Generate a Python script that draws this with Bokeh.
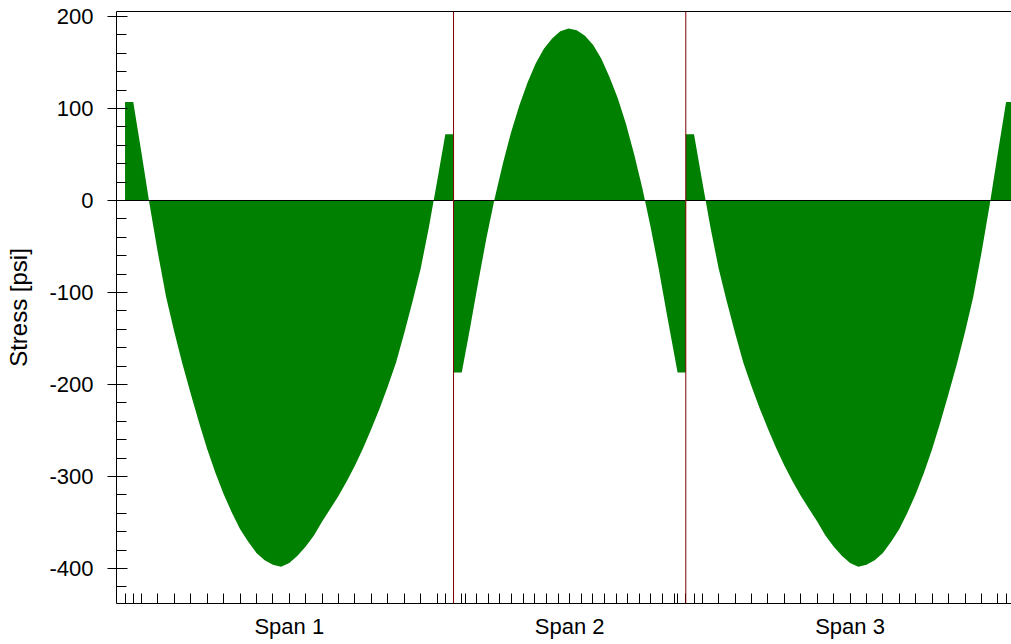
from bokeh.plotting import figure
from bokeh.models import (Range1d, LinearAxis, FixedTicker, SingleIntervalTicker,
                          CustomJSTickFormatter, Span)
from bokeh.embed import file_html
from bokeh.resources import INLINE

# ---- data ----
span_labels = ["Span 1", "Span 2", "Span 3"]
span_lengths = [100.0, 70.7, 100.0]          # ft
crit_offset = 2.5                             # ft, extra tick near each support

span1_x = [0, 2.5, 5, 7.5, 10, 12.5, 15, 17.5, 20, 22.5, 25, 27.5, 30, 32.5, 35, 37.5, 40,
           42.5, 45, 47.5, 50, 52.5, 55, 57.5, 60, 62.5, 65, 67.5, 70, 72.5, 75, 77.5, 80,
           82.5, 85, 87.5, 90, 92.5, 95, 97.5, 100]
span1_stress = [107, 107, 52, -5, -57, -105, -143, -178, -210, -241, -270, -296, -319, -339,
                -357, -371, -383, -391, -396, -398, -394, -386, -376, -364, -349, -335, -321,
                -305, -288, -269, -248, -226, -202, -176, -144, -110, -74, -29, 21, 72, 72]

span2_x = [0, 2.5, 5, 7.5, 10, 12.5, 15, 17.5, 20, 22.5, 25, 27.5, 30, 32.5, 35, 37.5, 40,
           42.5, 45, 47.5, 50, 52.5, 55, 57.5, 60, 62.5, 65, 68.2, 70.7]
span2_stress = [-187, -187, -139, -89, -41, 2, 40, 74, 103, 128, 149, 165, 176, 184, 187, 185,
                179, 169, 154, 134, 111, 83, 50, 13, -29, -75, -125, -187, -187]

span3_x = [0, 2.5, 5, 7.5, 10, 12.5, 15, 17.5, 20, 22.5, 25, 27.5, 30, 32.5, 35, 37.5, 40,
           42.5, 45, 47.5, 50, 52.5, 55, 57.5, 60, 62.5, 65, 67.5, 70, 72.5, 75, 77.5, 80,
           82.5, 85, 87.5, 90, 92.5, 95, 97.5, 100]
span3_stress = [72, 72, 21, -29, -74, -110, -144, -176, -202, -226, -248, -269, -288, -305,
                -321, -335, -349, -364, -376, -386, -394, -398, -396, -391, -383, -371, -357,
                -339, -319, -296, -270, -241, -210, -178, -143, -105, -57, -5, 52, 107, 107]

y_tick_interval = 100

# ---- derived ----
starts = [0.0]
for L in span_lengths[:-1]:
    starts.append(starts[-1] + L)
centers = [s + L / 2 for s, L in zip(starts, span_lengths)]
interior_supports = starts[1:]

minor = []
for s, L in zip(starts, span_lengths):
    minor += [s + L * k / 20 for k in range(21)]
    minor += [s + crit_offset, s + L - crit_offset]
minor = sorted(set(round(t, 4) for t in minor))

FONT = "Liberation Sans"

p = figure(width=1011, height=644, output_backend="svg", toolbar_location=None,
           x_range=Range1d(-2.6, 269.85), y_range=Range1d(-438, 205.4),
           min_border_left=116, min_border_right=0, min_border_top=11, min_border_bottom=41,
           outline_line_color=None, background_fill_color="white",
           border_fill_color="white")
p.xgrid.visible = False
p.ygrid.visible = False

series = [(span1_x, span1_stress), (span2_x, span2_stress), (span3_x, span3_stress)]
for (xs, ys), s in zip(series, starts):
    p.varea(x=[s + v for v in xs], y1=[0] * len(xs), y2=ys,
            fill_color="#008000", fill_alpha=1.0)

# zero line and support lines
p.add_layout(Span(location=0, dimension="width", line_color="black", line_width=1))
for loc in interior_supports:
    p.add_layout(Span(location=loc, dimension="height", line_color="#800000", line_width=1))

# y axis
ya = p.yaxis[0]
ya.ticker = SingleIntervalTicker(interval=y_tick_interval, num_minor_ticks=5)
ya.formatter = CustomJSTickFormatter(code="return tick.toFixed(0);")
ya.major_tick_in = 11
ya.major_tick_out = 9
ya.minor_tick_in = 10
ya.minor_tick_out = 0
ya.major_tick_line_color = "black"
ya.minor_tick_line_color = "black"
ya.axis_line_color = "black"
ya.major_label_text_font = FONT
ya.major_label_text_font_size = "22px"
ya.major_label_text_color = "black"
ya.major_label_standoff = 14
ya.axis_label = "Stress [psi]"
ya.axis_label_text_font = FONT
ya.axis_label_text_font_size = "24px"
ya.axis_label_text_font_style = "normal"
ya.axis_label_text_color = "black"
ya.axis_label_standoff = 14

# x axis
xa = p.xaxis[0]
xa.ticker = FixedTicker(ticks=centers, minor_ticks=minor)
xa.formatter = CustomJSTickFormatter(args=dict(labels=span_labels, centers=centers), code="""
for (let i = 0; i < centers.length; i++) {
  if (Math.abs(tick - centers[i]) < 1e-6) { return labels[i]; }
}
return '';
""")
xa.major_tick_in = 10
xa.major_tick_out = 0
xa.minor_tick_in = 10
xa.minor_tick_out = 0
xa.major_tick_line_color = "black"
xa.minor_tick_line_color = "black"
xa.axis_line_color = "black"
xa.major_label_text_font = FONT
xa.major_label_text_font_size = "22px"
xa.major_label_text_color = "black"
xa.major_label_standoff = 10

# top border line
top = LinearAxis(ticker=FixedTicker(ticks=[]), major_tick_line_color=None,
                 minor_tick_line_color=None, major_label_text_font_size="0px",
                 major_label_standoff=0, axis_label_standoff=0,
                 axis_line_color="black")
p.add_layout(top, "above")

open("out.html", "w").write(file_html(p, INLINE))
